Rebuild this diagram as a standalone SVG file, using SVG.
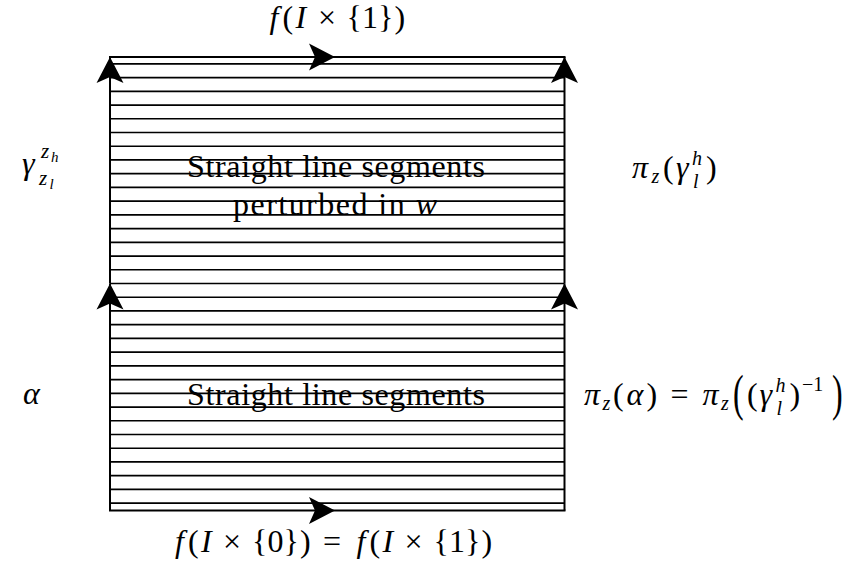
<svg xmlns="http://www.w3.org/2000/svg" width="853" height="571" viewBox="0 0 853 571">
<defs>
 <marker id="arr" markerUnits="userSpaceOnUse" viewBox="-27 -15 28 30" markerWidth="28" markerHeight="30" refX="0" refY="0" orient="auto" overflow="visible">
  <path d="M0,0 L-26,-13.5 L-20,0 L-26,13.5 Z" fill="#000"/>
 </marker>
</defs>
<rect width="853" height="571" fill="#fff"/>
<g id="region">
 <path stroke="#000" stroke-width="1.7" fill="none" d="M110,63.86H564.5M110,77.59H564.5M110,91.32H564.5M110,105.05H564.5M110,118.77H564.5M110,132.5H564.5M110,146.23H564.5M110,159.95H564.5M110,173.68H564.5M110,187.41H564.5M110,201.14H564.5M110,214.86H564.5M110,228.59H564.5M110,242.32H564.5M110,256.05H564.5M110,269.77H564.5M110,283.5H564.5M110,297.23H564.5M110,310.95H564.5M110,324.68H564.5M110,338.41H564.5M110,352.14H564.5M110,365.86H564.5M110,379.59H564.5M110,393.32H564.5M110,407.05H564.5M110,420.77H564.5M110,434.5H564.5M110,448.23H564.5M110,461.95H564.5M110,475.68H564.5M110,489.41H564.5M110,503.14H564.5"/>
</g>
<g id="connectors" stroke="#000" stroke-width="2" fill="none">
 <path d="M110,510.5V283.5" marker-end="url(#arr)"/>
 <path d="M110,283.5V57" marker-end="url(#arr)"/>
 <path d="M564.5,510.5V283.5" marker-end="url(#arr)"/>
 <path d="M564.5,283.5V57" marker-end="url(#arr)"/>
 <path d="M109,57H335" marker-end="url(#arr)"/>
 <path d="M335,57H565.5"/>
 <path d="M109,510.5H335" marker-end="url(#arr)"/>
 <path d="M335,510.5H565.5"/>
</g>
<g id="text-upper">
 <text font-family="Liberation Serif" font-size="32" x="336" y="177" text-anchor="middle" textLength="298" lengthAdjust="spacing">Straight line segments</text>
 <text font-family="Liberation Serif" font-size="32" x="335" y="215" text-anchor="middle" textLength="204" lengthAdjust="spacing">perturbed in <tspan font-style="italic">w</tspan></text>
</g>
<g id="text-lower">
 <text font-family="Liberation Serif" font-size="32" x="336" y="405" text-anchor="middle" textLength="298" lengthAdjust="spacing">Straight line segments</text>
</g>
<g id="label-top">
 <text font-family="Liberation Serif" font-size="32" y="28"><tspan font-style="italic" x="269.5">f</tspan><tspan x="282.5">(</tspan><tspan font-style="italic" x="295.5">I</tspan><tspan x="318">×</tspan><tspan x="346.5">{</tspan><tspan x="362">1</tspan><tspan x="378">}</tspan><tspan x="394.5">)</tspan></text>
</g>
<g id="label-bottom">
 <text font-family="Liberation Serif" font-size="32" y="552"><tspan font-style="italic" x="175">f</tspan><tspan x="188">(</tspan><tspan font-style="italic" x="201">I</tspan><tspan x="223">×</tspan><tspan x="252">{</tspan><tspan x="267.5">0</tspan><tspan x="283.5">}</tspan><tspan x="300">)</tspan><tspan x="323">=</tspan><tspan font-style="italic" x="356.5">f</tspan><tspan x="369.5">(</tspan><tspan font-style="italic" x="382.5">I</tspan><tspan x="404.5">×</tspan><tspan x="433.5">{</tspan><tspan x="449">1</tspan><tspan x="465">}</tspan><tspan x="481.5">)</tspan></text>
</g>
<g id="label-gamma">
 <text font-family="Liberation Serif" font-size="32" font-style="italic" x="22" y="174">γ</text>
 <text font-family="Liberation Serif" font-size="21" font-style="italic" x="41" y="158">z</text>
 <text font-family="Liberation Serif" font-size="15" font-style="italic" x="51" y="162">h</text>
 <text font-family="Liberation Serif" font-size="21" font-style="italic" x="39" y="185">z</text>
 <text font-family="Liberation Serif" font-size="15" font-style="italic" x="49.5" y="189">l</text>
</g>
<g id="label-alpha">
 <text font-family="Liberation Serif" font-size="32" font-style="italic" x="23" y="404">α</text>
</g>
<g id="label-pi-gamma">
 <text font-family="Liberation Serif" font-size="32" font-style="italic" x="632" y="178">π</text>
 <text font-family="Liberation Serif" font-size="20" font-style="italic" x="651.5" y="183">z</text>
 <text font-family="Liberation Serif" font-size="32" x="663" y="178">(</text>
 <text font-family="Liberation Serif" font-size="32" font-style="italic" x="676" y="178">γ</text>
 <text font-family="Liberation Serif" font-size="20" font-style="italic" x="692" y="165">h</text>
 <text font-family="Liberation Serif" font-size="20" font-style="italic" x="693" y="188">l</text>
 <text font-family="Liberation Serif" font-size="32" x="706" y="178">)</text>
</g>
<g id="label-pi-alpha">
 <text font-family="Liberation Serif" font-size="32" font-style="italic" x="584" y="405">π</text>
 <text font-family="Liberation Serif" font-size="20" font-style="italic" x="602.5" y="410">z</text>
 <text font-family="Liberation Serif" font-size="32" x="613" y="405">(</text>
 <text font-family="Liberation Serif" font-size="32" font-style="italic" x="626.5" y="405">α</text>
 <text font-family="Liberation Serif" font-size="32" x="646.5" y="405">)</text>
 <text font-family="Liberation Serif" font-size="32" x="670.5" y="405">=</text>
 <text font-family="Liberation Serif" font-size="32" font-style="italic" x="702.5" y="405">π</text>
 <text font-family="Liberation Serif" font-size="20" font-style="italic" x="721" y="410">z</text>
 <text font-family="Liberation Serif" font-size="32" x="733" y="0" transform="translate(0,410) scale(1,1.55)">(</text>
 <text font-family="Liberation Serif" font-size="32" x="747" y="405">(</text>
 <text font-family="Liberation Serif" font-size="32" font-style="italic" x="759.5" y="405">γ</text>
 <text font-family="Liberation Serif" font-size="20" font-style="italic" x="775.5" y="392">h</text>
 <text font-family="Liberation Serif" font-size="20" font-style="italic" x="776.5" y="415">l</text>
 <text font-family="Liberation Serif" font-size="32" x="789.5" y="405">)</text>
 <text font-family="Liberation Serif" font-size="20" x="802" y="391">−1</text>
 <text font-family="Liberation Serif" font-size="32" x="832" y="0" transform="translate(0,410) scale(1,1.55)">)</text>
</g>
</svg>
